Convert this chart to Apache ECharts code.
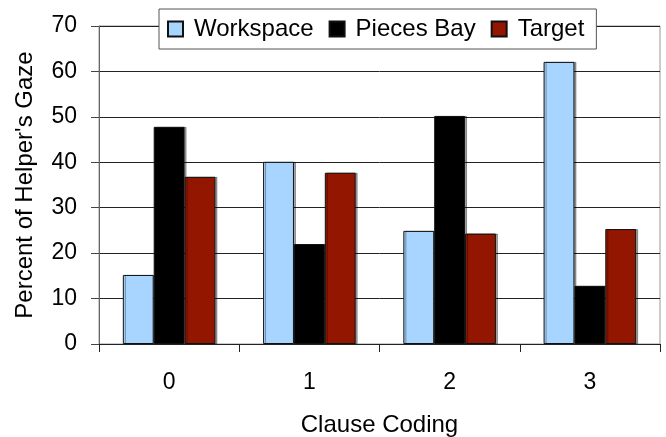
<!DOCTYPE html>
<html>
<head>
<meta charset="utf-8">
<script src="https://cdn.jsdelivr.net/npm/echarts@6/dist/echarts.min.js"></script>
<style>
  html, body { margin: 0; padding: 0; background: #fff; }
  #chart { width: 666px; height: 437px; }
</style>
</head>
<body>
<div id="chart"></div>
<script>
// Share of the helper's gaze per clause coding level
const categories = ['0', '1', '2', '3'];
const seriesNames = ['Workspace', 'Pieces Bay', 'Target'];
const workspace = [15.2, 40.1, 24.9, 62.1];
const piecesBay = [47.8, 22.0, 50.2, 12.8];
const target = [36.8, 37.7, 24.3, 25.3];
const yTicks = { min: 0, max: 70, step: 10 };

const colors = ['#a8d5ff', '#000000', '#931600'];
const font = 'Liberation Sans, Arial, Helvetica, sans-serif';

function barSeries(name, values, color) {
  return {
    name: name,
    type: 'bar',
    data: values,
    barGap: '0%',
    barCategoryGap: '34%',
    itemStyle: {
      color: color,
      borderColor: '#111',
      borderWidth: 1,
      shadowColor: 'rgba(0,0,0,0.35)',
      shadowOffsetX: 2,
      shadowOffsetY: 0
    }
  };
}

const chart = echarts.init(document.getElementById('chart'), null, { renderer: 'canvas' });
chart.setOption({
  animation: false,
  backgroundColor: '#fff',
  textStyle: { fontFamily: font },
  grid: {
    left: 99, right: 6, top: 26, bottom: 93,
    containLabel: false,
    outerBoundsMode: 'none',
    show: true, borderColor: '#999', borderWidth: 1
  },
  legend: {
    left: 159, top: 9,
    padding: [8, 12, 8, 8],
    itemGap: 15,
    itemWidth: 15, itemHeight: 15,
    icon: 'rect',
    backgroundColor: '#fff',
    borderColor: '#555', borderWidth: 1,
    textStyle: { fontFamily: font, fontSize: 24, color: '#000', padding: [0, 0, 0, 6] },
    data: seriesNames
  },
  xAxis: {
    type: 'category',
    data: categories,
    name: 'Clause Coding',
    nameLocation: 'middle',
    nameGap: 69,
    nameTextStyle: { fontFamily: font, fontSize: 24, color: '#000', verticalAlign: 'top' },
    axisLine: { lineStyle: { color: '#222', width: 1 } },
    axisTick: { show: true, alignWithLabel: false, length: 8, lineStyle: { color: '#222' } },
    axisLabel: { fontFamily: font, fontSize: 23, color: '#000', margin: 27 }
  },
  yAxis: {
    type: 'value',
    min: yTicks.min, max: yTicks.max, interval: yTicks.step,
    name: "Percent of Helper's Gaze",
    nameLocation: 'middle',
    nameGap: 62,
    nameTextStyle: { fontFamily: font, fontSize: 24, color: '#000' },
    axisLine: { show: true, lineStyle: { color: '#666', width: 1 } },
    axisTick: { show: true, length: 8, lineStyle: { color: '#444' } },
    axisLabel: { fontFamily: font, fontSize: 23, color: '#000', margin: 22 },
    splitLine: { show: true, lineStyle: { color: '#222', width: 1 } }
  },
  series: [
    barSeries(seriesNames[0], workspace, colors[0]),
    barSeries(seriesNames[1], piecesBay, colors[1]),
    barSeries(seriesNames[2], target, colors[2])
  ]
});
</script>
</body>
</html>
